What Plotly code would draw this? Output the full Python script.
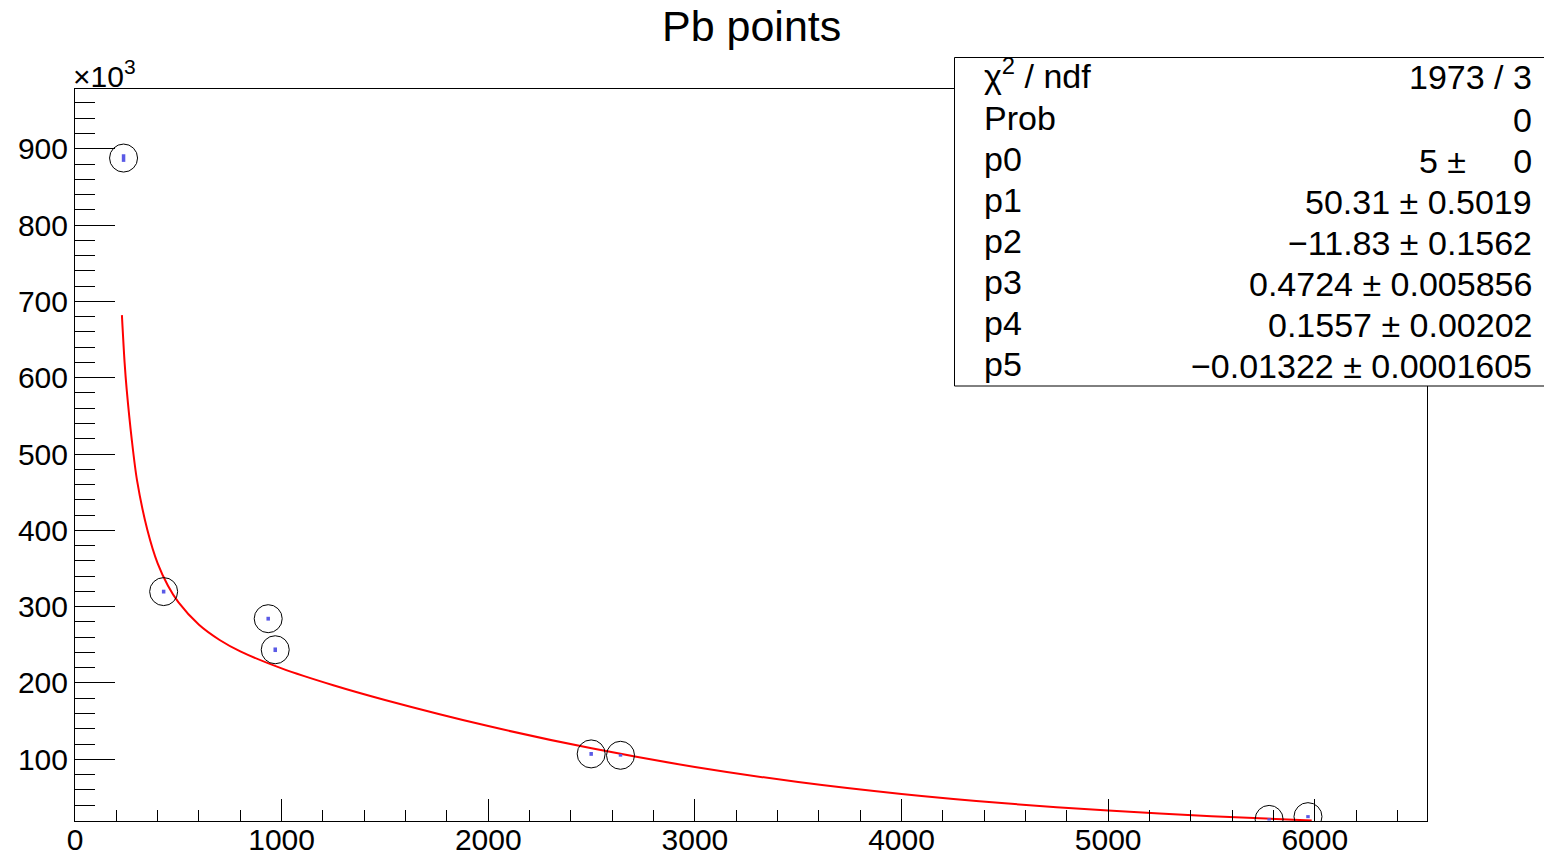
import plotly.graph_objects as go

# ---- data ----
energy = [235, 429, 935, 969, 2498, 2640, 5779, 5967]
counts_e3 = [887.8, 319.7, 284.2, 243.5, 107.0, 105.2, 21.2, 24.8]
counts_err_e3 = [5.0, 2.5, 2.5, 3.0, 2.5, 1.8, 1.5, 2.0]

fit_x = [227, 240, 250, 275, 300, 350, 400, 450, 500, 600, 700, 800, 1000,
         1250, 1500, 2000, 2500, 3000, 3500, 4000, 4500, 5000, 5500, 5985]
fit_y_e3 = [682.0, 620.0, 585.0, 518.3, 465.8, 400.7, 356.6, 327.3, 305.8,
            276.2, 256.3, 241.4, 219.1, 197.0, 177.7, 143.5, 114.3, 89.9,
            70.2, 54.6, 42.3, 32.7, 25.3, 19.7]

stat_labels = ["χ<sup>2</sup> / ndf", "Prob", "p0", "p1", "p2", "p3", "p4", "p5"]
stat_values = ["1973 / 3", "0", "5 ±\u00a0\u00a0\u00a0\u00a0\u00a00",
               "50.31 ± 0.5019", "−11.83 ± 0.1562", "0.4724 ± 0.005856",
               "0.1557 ± 0.00202", "−0.01322 ± 0.0001605"]

title_text = "Pb points"
y_tickvals = [100, 200, 300, 400, 500, 600, 700, 800, 900]
x_tickvals = [0, 1000, 2000, 3000, 4000, 5000, 6000]

# ---- layout geometry (pixels) ----
W, H = 1544, 856
L_, R_, T_, B_ = 75, 117, 89, 35
PW = W - L_ - R_
PH = H - T_ - B_


def px_x(px):
    return (px - L_) / PW


def px_y(py):
    return (H - B_ - py) / PH


FONT = "Liberation Sans, Arial, Helvetica, sans-serif"

fig = go.Figure()

fig.add_trace(go.Scatter(
    x=fit_x, y=fit_y_e3, mode="lines",
    line=dict(color="#ff0000", width=2, shape="spline", smoothing=0.8),
    hoverinfo="skip", showlegend=False,
))

fig.add_trace(go.Scatter(
    x=energy, y=counts_e3, mode="markers",
    marker=dict(symbol="circle-open", size=28, color="#000000",
                line=dict(width=1, color="#000000")),
    error_y=dict(type="data", array=counts_err_e3, visible=True,
                 color="#5a5ae6", thickness=3.5, width=0),
    showlegend=False,
))

axis_common = dict(
    showline=True, linecolor="#000000", linewidth=1, mirror=True,
    showgrid=False, zeroline=False, ticks="inside", tickcolor="#000000",
    tickwidth=1, tickfont=dict(family=FONT, size=30, color="#000000"),
    automargin=False,
)

fig.update_xaxes(
    range=[0, 6543], tickmode="array", tickvals=x_tickvals,
    ticklen=22, ticklabelstandoff=-8,
    minor=dict(tickmode="linear", tick0=0, dtick=200, ticklen=11,
               tickcolor="#000000", ticks="inside", showgrid=False),
    **axis_common,
)
fig.update_yaxes(
    range=[19.1, 978.3], tickmode="array", tickvals=y_tickvals,
    ticktext=[str(v) for v in y_tickvals],
    ticklen=40, ticklabelstandoff=0,
    minor=dict(tickmode="linear", tick0=0, dtick=20, ticklen=20,
               tickcolor="#000000", ticks="inside", showgrid=False),
    **axis_common,
)

annotations = [
    dict(text=title_text, x=px_x(751), y=px_y(26), xref="paper", yref="paper",
         xanchor="center", yanchor="middle", showarrow=False,
         font=dict(family=FONT, size=43, color="#000000")),
    dict(text="×10<sup>3</sup>", x=px_x(71), y=px_y(95), xref="paper",
         yref="paper", xanchor="left", yanchor="bottom", showarrow=False,
         font=dict(family=FONT, size=30, color="#000000")),
]

box_top, box_bot = 57, 386
row_h = (box_bot - box_top) / len(stat_labels)
for i, (lab, val) in enumerate(zip(stat_labels, stat_values)):
    yc = box_top + row_h * (i + 0.5)
    lab_off = -4 if i == 0 else -1
    val_off = -1 if i == 0 else 1
    annotations.append(dict(
        text=lab, x=px_x(982), y=px_y(yc + lab_off), xref="paper",
        yref="paper", xanchor="left", yanchor="middle", showarrow=False,
        font=dict(family=FONT, size=34, color="#000000")))
    annotations.append(dict(
        text=val, x=px_x(1534), y=px_y(yc + val_off), xref="paper",
        yref="paper", xanchor="right", yanchor="middle", showarrow=False,
        font=dict(family=FONT, size=34, color="#000000")))

fig.update_layout(
    width=W, height=H, autosize=False,
    margin=dict(l=L_, r=R_, t=T_, b=B_, pad=0),
    paper_bgcolor="#ffffff", plot_bgcolor="#ffffff",
    annotations=annotations,
    shapes=[dict(type="rect", xref="paper", yref="paper",
                 x0=px_x(954.5), x1=px_x(1560), y0=px_y(386), y1=px_y(57.5),
                 line=dict(color="#000000", width=1), fillcolor="#ffffff",
                 layer="above")],
    showlegend=False,
)

post = ("document.body.style.margin='0';"
        "document.body.style.padding='0';"
        "document.body.style.overflow='hidden';")

fig.write_html("out.html",
               config={"responsive": False, "displayModeBar": False,
                       "staticPlot": True},
               post_script=post)
